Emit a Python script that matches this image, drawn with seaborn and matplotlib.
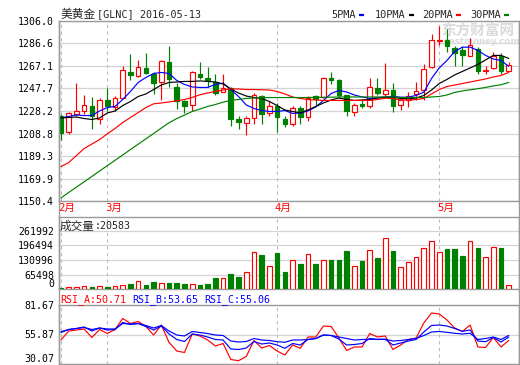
import numpy as np
import pandas as pd
import matplotlib
matplotlib.use("Agg")
import matplotlib.pyplot as plt
from matplotlib.lines import Line2D
import matplotlib.transforms as mtransforms
import seaborn as sns

sns.set_style("white")
MONO = ['DejaVu Sans Mono', 'Noto Sans CJK SC']
CJK = ['Noto Sans CJK SC', 'DejaVu Sans']
plt.rcParams['font.family'] = MONO

# ---------------- data ----------------
title_name = "美黄金"
title_rest = "[GLNC] 2016-05-13"
volume_label = "成交量"
volume_value = ":20583"
months = ["2月", "3月", "4月", "5月"]
month_idx = [0, 6, 28, 49]
legend_labels = ["5PMA", "10PMA", "20PMA", "30PMA"]
rsi_labels = ["RSI_A:50.71", "RSI_B:53.65", "RSI_C:55.06"]

opens = [1223.5, 1210.5, 1225.2, 1228.6, 1232.1, 1221.5, 1237.9, 1231.7, 1239.6, 1261.7,
         1258.0, 1264.9, 1260.3, 1253.6, 1270.3, 1249.3, 1236.4, 1233.8, 1260.5, 1256.5,
         1253.2, 1245.0, 1247.9, 1220.9, 1218.0, 1222.3, 1240.7, 1226.3, 1232.1, 1221.5,
         1217.2, 1231.2, 1222.9, 1240.7, 1240.1, 1256.8, 1254.5, 1242.0, 1227.2, 1234.4,
         1232.1, 1248.2, 1242.9, 1245.9, 1233.8, 1238.1, 1243.0, 1245.9, 1265.7, 1288.1,
         1289.0, 1282.7, 1280.4, 1275.6, 1281.8, 1262.7, 1264.9, 1275.2, 1262.7]
highs = [1225.2, 1227.2, 1252.2, 1241.6, 1240.1, 1239.0, 1247.9, 1240.7, 1266.8, 1277.5,
         1272.4, 1278.1, 1261.7, 1271.8, 1284.1, 1251.9, 1238.1, 1262.3, 1270.0, 1265.7,
         1259.7, 1259.7, 1248.7, 1224.3, 1224.3, 1243.5, 1241.6, 1236.4, 1234.7, 1223.5,
         1232.1, 1232.1, 1240.7, 1242.4, 1257.9, 1261.7, 1255.4, 1242.4, 1234.7, 1238.7,
         1256.5, 1256.8, 1269.4, 1252.2, 1239.0, 1244.4, 1253.0, 1268.9, 1294.8, 1301.1,
         1299.1, 1283.8, 1283.8, 1290.7, 1283.0, 1267.4, 1278.9, 1277.8, 1270.0]
lows = [1203.4, 1208.5, 1223.5, 1225.2, 1212.8, 1217.2, 1228.6, 1228.6, 1239.0, 1254.5,
        1257.1, 1259.7, 1243.0, 1237.3, 1248.7, 1229.5, 1226.3, 1228.0, 1256.0, 1248.7,
        1241.6, 1244.2, 1215.7, 1212.8, 1207.9, 1216.6, 1217.2, 1224.3, 1209.9, 1214.8,
        1215.1, 1216.6, 1220.0, 1233.8, 1239.0, 1251.7, 1239.0, 1223.7, 1223.5, 1231.0,
        1231.2, 1242.4, 1240.7, 1227.2, 1229.0, 1231.5, 1238.1, 1237.3, 1264.9, 1284.7,
        1278.9, 1267.4, 1266.6, 1275.2, 1259.7, 1259.7, 1264.6, 1260.3, 1262.3]
closes = [1209.4, 1226.7, 1228.6, 1233.5, 1223.5, 1238.1, 1232.3, 1239.6, 1263.1, 1258.8,
          1265.7, 1260.8, 1252.2, 1270.9, 1256.0, 1236.4, 1232.9, 1261.4, 1257.4, 1254.8,
          1243.5, 1247.6, 1220.9, 1219.1, 1222.3, 1242.4, 1225.8, 1232.1, 1222.9, 1216.6,
          1231.0, 1222.9, 1239.6, 1238.4, 1256.8, 1254.5, 1242.4, 1228.0, 1233.8, 1232.1,
          1249.3, 1243.5, 1246.5, 1232.9, 1237.3, 1240.7, 1245.3, 1264.6, 1289.6, 1289.0,
          1284.4, 1278.4, 1276.1, 1285.3, 1262.7, 1263.7, 1275.2, 1262.3, 1268.0]
volumes = [7200, 10300, 10300, 14800, 10300, 14800, 10300, 14800, 19300, 25100,
           37200, 19300, 34100, 28300, 28300, 28300, 23800, 23800, 20600, 25100,
           52000, 50700, 70000, 55200, 77600, 167300, 153900, 104500, 164200, 79000,
           131400, 114800, 158400, 114800, 131400, 131400, 131400, 171800, 104500, 127000,
           176300, 141800, 230100, 171800, 100000, 122500, 144900, 185300, 216700, 167300,
           180800, 180800, 149400, 216700, 185300, 144900, 189800, 185300, 20583]
ma5 = [1222.3, 1223.5, 1224.8, 1224.3, 1224.3, 1228.2, 1231.2, 1232.1, 1238.1, 1245.0,
       1252.8, 1257.1, 1260.5, 1261.4, 1260.5, 1254.5, 1251.1, 1248.9, 1248.5, 1248.5,
       1251.1, 1252.2, 1246.7, 1240.7, 1233.4, 1230.4, 1228.6, 1227.8, 1227.8, 1228.6,
       1226.1, 1226.5, 1228.2, 1231.7, 1237.3, 1243.3, 1245.9, 1244.6, 1242.0, 1240.3,
       1239.0, 1239.6, 1240.3, 1240.7, 1240.1, 1240.1, 1241.6, 1244.4, 1256.2, 1265.3,
       1271.8, 1279.5, 1283.2, 1283.2, 1280.4, 1276.1, 1273.0, 1271.8, 1266.6]
ma10 = [1222.3, 1222.6, 1223.0, 1221.7, 1220.9, 1222.2, 1226.5, 1228.2, 1232.9, 1236.4,
        1240.7, 1242.9, 1246.7, 1250.6, 1252.8, 1253.2, 1253.7, 1253.7, 1254.1, 1253.7,
        1253.2, 1251.5, 1247.2, 1243.7, 1241.1, 1239.8, 1239.0, 1236.4, 1232.9, 1229.1,
        1227.8, 1226.6, 1229.1, 1232.1, 1235.1, 1237.7, 1239.4, 1238.1, 1237.3, 1237.7,
        1238.1, 1239.4, 1239.8, 1240.1, 1239.0, 1238.7, 1239.4, 1241.6, 1246.3, 1251.9,
        1255.4, 1259.3, 1262.3, 1265.3, 1268.3, 1272.2, 1276.1, 1276.1, 1273.5]
ma20 = [1180.3, 1183.8, 1189.8, 1195.9, 1199.7, 1203.6, 1208.5, 1213.1, 1218.3, 1222.6,
        1226.9, 1231.2, 1234.4, 1235.1, 1236.0, 1237.0, 1238.1, 1239.9, 1242.2, 1243.7,
        1245.0, 1246.3, 1247.2, 1247.2, 1246.7, 1246.7, 1246.5, 1246.3, 1245.0, 1242.9,
        1240.3, 1239.0, 1238.1, 1237.7, 1237.3, 1237.3, 1237.3, 1237.3, 1237.3, 1237.3,
        1237.3, 1238.1, 1239.2, 1239.0, 1237.7, 1237.7, 1238.1, 1239.0, 1242.9, 1246.7,
        1249.3, 1250.6, 1251.9, 1253.2, 1254.5, 1255.8, 1257.5, 1258.8, 1261.4]
ma30 = [1153.3, 1158.0, 1162.6, 1167.2, 1171.8, 1176.5, 1181.1, 1185.7, 1190.3, 1195.0,
        1199.6, 1204.2, 1208.8, 1213.5, 1218.1, 1221.7, 1224.7, 1227.8, 1229.9, 1232.1,
        1233.8, 1235.8, 1237.3, 1238.1, 1239.0, 1239.4, 1239.6, 1239.8, 1239.8, 1239.8,
        1239.8, 1239.8, 1239.8, 1240.0, 1240.0, 1240.1, 1240.3, 1240.3, 1240.3, 1240.3,
        1240.3, 1240.3, 1240.3, 1240.3, 1239.8, 1239.8, 1239.8, 1239.8, 1240.3, 1240.7,
        1242.0, 1244.2, 1245.5, 1246.5, 1247.4, 1248.5, 1249.8, 1250.8, 1252.8]
rsi_a = [51.06, 58.93, 59.80, 60.68, 53.25, 60.24, 56.74, 60.24, 69.86, 65.49,
         67.24, 62.87, 55.43, 64.18, 48.87, 41.44, 40.13, 56.31, 54.56, 51.06,
         45.81, 48.00, 34.00, 32.95, 36.63, 50.62, 44.06, 46.25, 41.44, 37.94,
         46.69, 43.80, 53.68, 53.68, 63.30, 62.87, 52.81, 41.88, 44.94, 44.94,
         56.74, 53.68, 54.56, 42.75, 46.69, 51.50, 52.81, 65.93, 74.67, 73.80,
         68.55, 61.55, 58.49, 64.18, 44.94, 44.50, 53.25, 44.94, 50.71]
rsi_b = [57.62, 60.24, 61.12, 62.43, 58.93, 61.55, 59.80, 60.24, 66.37, 64.62,
         65.49, 62.87, 59.80, 63.30, 56.31, 51.50, 49.75, 56.31, 55.43, 53.68,
         51.50, 51.06, 43.19, 42.75, 44.06, 49.75, 47.56, 48.44, 46.69, 43.80,
         48.00, 46.69, 51.50, 52.37, 55.43, 54.99, 51.93, 46.69, 47.12, 48.00,
         52.37, 51.50, 51.67, 46.69, 48.44, 50.18, 51.50, 58.06, 63.74, 64.18,
         63.30, 61.12, 58.67, 59.80, 50.18, 49.57, 53.25, 49.31, 53.65]
rsi_c = [58.32, 60.24, 61.12, 61.99, 60.24, 61.55, 60.68, 60.68, 65.49, 65.05,
         65.49, 63.74, 61.55, 63.74, 58.93, 55.43, 54.56, 58.49, 57.62, 56.74,
         55.43, 54.99, 50.18, 49.31, 49.75, 52.37, 51.06, 50.62, 49.57, 49.05,
         51.06, 51.06, 51.50, 52.37, 55.43, 54.99, 53.68, 52.37, 51.06, 51.50,
         51.67, 51.67, 51.67, 50.18, 50.62, 51.50, 52.37, 54.99, 58.06, 58.49,
         57.79, 56.92, 56.31, 56.92, 51.50, 52.37, 53.68, 51.50, 55.06]
price_ticks = [1150.4, 1169.9, 1189.3, 1208.8, 1228.2, 1247.7, 1267.1, 1286.6, 1306.0]
vol_ticks = [0, 65498, 130996, 196494, 261992]
rsi_ticks = [30.07, 55.87, 81.67]

# ---------------- styling constants ----------------
RED = '#ff0000'
GREEN = '#008000'
BLUE = '#0000ff'
FRAME = '#9a9a9a'
GRID = '#d4d4d4'
DASH = '#bdbdbd'
W, H = 520, 365

df = pd.DataFrame({'i': np.arange(len(closes)), 'open': opens, 'high': highs,
                   'low': lows, 'close': closes, 'vol': volumes,
                   'ma5': ma5, 'ma10': ma10, 'ma20': ma20, 'ma30': ma30,
                   'rsi_a': rsi_a, 'rsi_b': rsi_b, 'rsi_c': rsi_c})
df['up'] = df['close'] >= df['open']

fig = plt.figure(figsize=(W / 100, H / 100), dpi=100)
fig.patch.set_facecolor('white')


def rect(x0, y0, x1, y1):
    return [x0 / W, 1 - y1 / H, (x1 - x0) / W, (y1 - y0) / H]


LEFT, RIGHT = 58.5, 519.0
ax_p = fig.add_axes(rect(LEFT, 20.7, RIGHT, 201.3))
ax_v = fig.add_axes(rect(LEFT, 216.5, RIGHT, 289.3))
ax_r = fig.add_axes(rect(LEFT, 305.0, RIGHT, 364.0))

xlim = (-0.32, 59.33)
for ax in (ax_p, ax_v, ax_r):
    ax.set_facecolor('none')
    for s in ax.spines.values():
        s.set_color(FRAME)
        s.set_linewidth(1.0)
    ax.tick_params(axis='y', length=0, pad=3.2, labelsize=7.1, labelcolor='black')
    ax.tick_params(axis='x', length=0, labelbottom=False)
    for m in month_idx:
        ax.axvline(m, color=DASH, lw=0.8, ls=(0, (3, 3)), zorder=0.6)

# continuous outer frame lines between panels
for xx in (LEFT, RIGHT):
    fig.add_artist(Line2D([xx / W, xx / W], [1 - 20.7 / H, 1 - 364 / H],
                          color=FRAME, lw=1.0, transform=fig.transFigure))

# ---------------- price panel ----------------
x = df['i'].values
up = df['up'].values
edge = np.where(up, RED, GREEN)
fill = np.where(up, 'white', GREEN)
ax_p.vlines(x, df['low'], df['high'], colors=edge, lw=0.85, zorder=2)
body_h = np.maximum((df['close'] - df['open']).abs().values, 0.5)
body_b = np.minimum(df['open'], df['close']).values
ax_p.bar(x, body_h, bottom=body_b, width=0.6, color=fill, edgecolor=edge,
         linewidth=0.85, zorder=3)
for col, c in zip(['ma5', 'ma10', 'ma20', 'ma30'], [BLUE, 'black', RED, GREEN]):
    sns.lineplot(data=df, x='i', y=col, color=c, lw=0.85, ax=ax_p, legend=False, zorder=4)
ax_p.set_ylim(price_ticks[0], price_ticks[-1])
ax_p.set_yticks(price_ticks)
ax_p.set_yticklabels([f"{v:.1f}" for v in price_ticks])
ax_p.yaxis.grid(True, color=GRID, lw=0.9, zorder=0.5)
ax_p.set_axisbelow(True)

blend = mtransforms.blended_transform_factory(ax_p.transData, ax_p.transAxes)
for lab, m in zip(months, month_idx):
    ax_p.text(m - 0.3, -0.038, lab, transform=blend, color=RED, fontsize=7.6,
              ha='left', va='center', family=MONO)

# watermark
ax_p.text(478 / W, 1 - 31 / H, "东方财富网", transform=fig.transFigure, color='#dadada',
          fontsize=10.5, fontweight='bold', family=CJK, ha='center', va='center', zorder=1)
ax_p.text(482 / W, 1 - 42 / H, "eastmoney.com", transform=fig.transFigure, color='#dcdcdc',
          fontsize=6.2, fontweight='bold', family=['DejaVu Sans'], ha='center', va='center',
          zorder=1)

# ---------------- volume panel ----------------
ax_v.bar(x, df['vol'], width=0.6, color=fill, edgecolor=edge, linewidth=0.85, zorder=3)
ax_v.set_ylim(0, 326500)
ax_v.set_yticks(vol_ticks)
ax_v.set_yticklabels([str(v) for v in vol_ticks])
ax_v.yaxis.grid(True, color=GRID, lw=0.9, zorder=0.5)
ax_v.set_axisbelow(True)
ax_v.get_yticklabels()[0].set_va('bottom')

# ---------------- RSI panel ----------------
for col, c in zip(['rsi_a', 'rsi_b', 'rsi_c'], [RED, BLUE, BLUE]):
    sns.lineplot(data=df, x='i', y=col, color=c, lw=0.85, ax=ax_r, legend=False, zorder=4)
ax_r.set_ylim(rsi_ticks[0], rsi_ticks[-1])
ax_r.set_yticks(rsi_ticks)
ax_r.set_yticklabels([f"{v:.2f}" for v in rsi_ticks])
ax_r.yaxis.grid(True, color=GRID, lw=0.9, zorder=0.5)
ax_r.set_axisbelow(True)
ax_r.get_yticklabels()[0].set_va('bottom')

for ax in (ax_p, ax_v, ax_r):
    ax.set_xlim(*xlim)
    ax.set_xlabel('')
    ax.set_ylabel('')
    ax.set_xticks([])

# ---------------- header texts ----------------
fig.text(61 / W, 1 - 14 / H, title_name, fontsize=8.5, family=CJK, va='center', ha='left')
fig.text(97 / W, 1 - 14 / H, title_rest, fontsize=7.3, family=MONO, va='center', ha='left')

leg_x = [331.5, 375.0, 422.0, 470.0]
leg_c = [BLUE, 'black', RED, GREEN]
for lab, lx, c in zip(legend_labels, leg_x, leg_c):
    t = fig.text(lx / W, 1 - 14.5 / H, lab, fontsize=7.4, family=MONO, va='center', ha='left')
    dx0 = lx + 6.2 * len(lab) + 2.5
    fig.add_artist(Line2D([dx0 / W, (dx0 + 5.5) / W], [1 - 14.5 / H, 1 - 14.5 / H],
                          color=c, lw=1.6, transform=fig.transFigure, solid_capstyle='butt'))

fig.text(60 / W, 1 - 226 / H, volume_label, fontsize=8.4, family=CJK, va='center', ha='left')
fig.text(95 / W, 1 - 226 / H, volume_value, fontsize=7.2, family=MONO, va='center', ha='left')

for lab, rx, c in zip(rsi_labels, [60, 132, 204], [RED, BLUE, BLUE]):
    fig.text(rx / W, 1 - 300 / H, lab, fontsize=7.2, family=MONO, color=c,
             va='center', ha='left')

fig.savefig('out.png', dpi=100, facecolor='white')
